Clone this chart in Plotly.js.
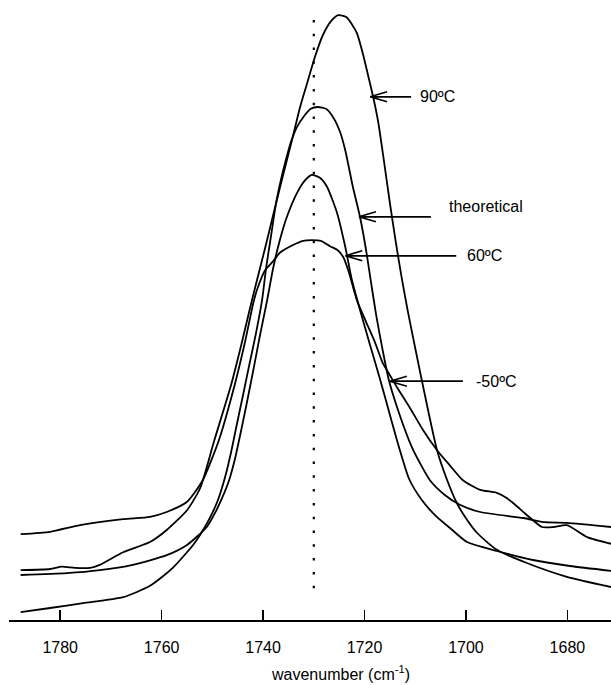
<!DOCTYPE html>
<html>
<head>
<meta charset="utf-8">
<script src="https://cdn.plot.ly/plotly-3.0.1.min.js"></script>
<style>html,body{margin:0;padding:0;background:#fff;}#chart{width:611px;height:685px;}</style>
</head>
<body>
<div id="chart"></div>
<script>
// wavenumbers (cm-1) and absorbance (arbitrary units)
const wn90 = [1787.8,1782.0,1779.7,1777.1,1774.1,1772.2,1767.6,1762.3,1759.0,1755.0,1752.4,1749.7,1746.3,1744.2,1742.2,1739.6,1736.7,1734.3,1732.7,1731.3,1729.8,1728.2,1726.6,1725.2,1723.6,1722.5,1721.5,1720.3,1719.3,1718.3,1717.3,1716.2,1715.0,1713.8,1712.6,1711.4,1710.0,1707.9,1705.7,1703.7,1701.8,1699.8,1697.8,1693.9,1688.0,1680.1,1671.4];
const abs90 = [0.083,0.085,0.089,0.087,0.087,0.092,0.113,0.130,0.150,0.183,0.220,0.297,0.392,0.462,0.533,0.620,0.720,0.800,0.855,0.895,0.938,0.975,0.998,1.008,1.005,0.993,0.978,0.943,0.908,0.872,0.830,0.767,0.695,0.628,0.567,0.512,0.453,0.367,0.283,0.233,0.195,0.167,0.145,0.117,0.095,0.072,0.055];

const wnTheo = [1787.8,1782.0,1775.5,1767.6,1762.3,1757.8,1753.8,1752.4,1750.5,1748.9,1747.5,1746.3,1745.2,1744.0,1742.8,1741.4,1740.2,1739.4,1738.4,1737.5,1736.5,1735.5,1734.5,1733.3,1731.9,1730.6,1729.2,1727.6,1726.2,1724.8,1723.8,1722.3,1720.9,1719.7,1718.7,1717.7,1716.5,1715.2,1713.4,1710.6,1707.1,1704.1,1701.2,1697.2,1688.7,1684.4,1680.1,1671.4];
const absTheo = [0.013,0.020,0.028,0.038,0.057,0.087,0.125,0.142,0.170,0.200,0.238,0.280,0.325,0.373,0.422,0.478,0.533,0.587,0.642,0.692,0.733,0.767,0.797,0.822,0.840,0.852,0.855,0.852,0.838,0.813,0.783,0.722,0.672,0.617,0.562,0.508,0.453,0.400,0.350,0.287,0.233,0.208,0.192,0.180,0.170,0.163,0.162,0.155];

const wn60 = [1787.8,1778.7,1772.2,1765.7,1759.0,1755.0,1751.1,1749.5,1748.1,1746.7,1745.5,1744.4,1743.2,1741.8,1740.6,1739.2,1738.0,1736.7,1735.3,1733.3,1731.7,1730.4,1728.8,1727.4,1725.4,1723.8,1722.5,1720.9,1718.9,1716.9,1715.0,1713.2,1711.2,1708.7,1705.9,1702.7,1699.8,1693.9,1686.8,1679.5,1671.4];
const abs60 = [0.075,0.078,0.083,0.092,0.108,0.125,0.155,0.178,0.203,0.233,0.270,0.313,0.362,0.422,0.475,0.533,0.587,0.633,0.672,0.712,0.733,0.742,0.737,0.722,0.678,0.622,0.567,0.517,0.458,0.400,0.342,0.288,0.235,0.200,0.173,0.150,0.130,0.115,0.100,0.090,0.082];

const wnM50 = [1787.8,1782.0,1776.1,1767.6,1762.3,1759.0,1755.0,1751.9,1748.7,1745.5,1743.6,1741.8,1740.8,1739.6,1738.0,1736.7,1734.1,1732.1,1730.4,1728.6,1726.8,1725.4,1724.2,1723.1,1721.5,1719.7,1717.9,1716.4,1715.0,1713.6,1711.0,1708.5,1705.7,1703.1,1700.6,1697.2,1693.9,1691.9,1690.3,1688.3,1686.6,1685.0,1682.8,1680.1,1676.1,1671.4];
const absM50 = [0.143,0.147,0.158,0.168,0.172,0.180,0.197,0.233,0.300,0.395,0.462,0.533,0.560,0.583,0.598,0.612,0.625,0.632,0.633,0.632,0.623,0.617,0.605,0.580,0.533,0.497,0.462,0.428,0.408,0.388,0.353,0.317,0.283,0.257,0.233,0.217,0.212,0.203,0.192,0.177,0.165,0.155,0.155,0.158,0.138,0.127];

const tickVals = [1780,1760,1740,1720,1700,1680];
const refWavenumber = 1730;
const xTitle = 'wavenumber (cm<sup>-1</sup>)';

// labels: text, arrow tip (wavenumber, absorbance), text anchor, arrow length px
const labelTexts = ['90ºC','theoretical','60ºC','-50ºC'];
const labelTipX  = [1718.9, 1721.1, 1723.8, 1715.0];
const labelTipY  = [0.872, 0.672, 0.607, 0.398];
const labelTextX = [1709.4, 1703.8, 1700.2, 1698.5];
const labelTextY = [0.872, 0.690, 0.607, 0.398];
const arrowLen   = [41, 72, 111, 73];

const lineStyle = {color:'#000', width:1.8, shape:'spline', smoothing:0.6};
const mk = (x,y,name) => ({x:x, y:y, name:name, type:'scatter', mode:'lines', line:lineStyle, hoverinfo:'skip'});
const traces = [
  mk(wn90, abs90, '90ºC'),
  mk(wnTheo, absTheo, 'theoretical'),
  mk(wn60, abs60, '60ºC'),
  mk(wnM50, absM50, '-50ºC')
];

const fontFam = 'Liberation Sans, Arial, Helvetica, sans-serif';
const shapes = [{
  type:'line', xref:'x', yref:'y', x0:refWavenumber, x1:refWavenumber, y0:0.053, y1:1.003,
  line:{color:'#000', width:2.2, dash:'2.5px,11.3px'}
}];
const annotations = [];
for (let i=0;i<labelTexts.length;i++){
  shapes.push({
    type:'path', xref:'x', yref:'y', xsizemode:'pixel', ysizemode:'pixel',
    xanchor:labelTipX[i], yanchor:labelTipY[i],
    path:'M0,0 L'+arrowLen[i]+',0 M0,0 L17,5 M0,0 L17,-5',
    line:{color:'#000', width:1.7}
  });
  annotations.push({
    xref:'x', yref:'y', x:labelTextX[i], y:labelTextY[i], text:labelTexts[i],
    showarrow:false, xanchor:'left', yanchor:'middle',
    font:{family:fontFam, size:16, color:'#000'}
  });
}
annotations.push({
  xref:'paper', yref:'paper', x:0.55, y:-0.087, text:xTitle, showarrow:false,
  xanchor:'center', yanchor:'middle', font:{family:fontFam, size:16, color:'#000'}
});

const layout = {
  width:611, height:685,
  margin:{l:9, r:0, t:8, b:65},
  paper_bgcolor:'#fff', plot_bgcolor:'#fff',
  showlegend:false,
  font:{family:fontFam, color:'#000'},
  xaxis:{
    range:[1790.1, 1671.4], tickvals:tickVals, ticktext:tickVals.map(String),
    ticks:'inside', ticklen:10, tickwidth:1.5, tickcolor:'#000',
    showline:true, linecolor:'#000', linewidth:2,
    showgrid:false, zeroline:false,
    tickfont:{family:fontFam, size:16, color:'#000'},
    ticklabelstandoff:12
  },
  yaxis:{range:[0,1.02], visible:false, showgrid:false, zeroline:false},
  shapes:shapes,
  annotations:annotations
};
Plotly.newPlot('chart', traces, layout, {displayModeBar:false, staticPlot:true});
</script>
</body>
</html>
